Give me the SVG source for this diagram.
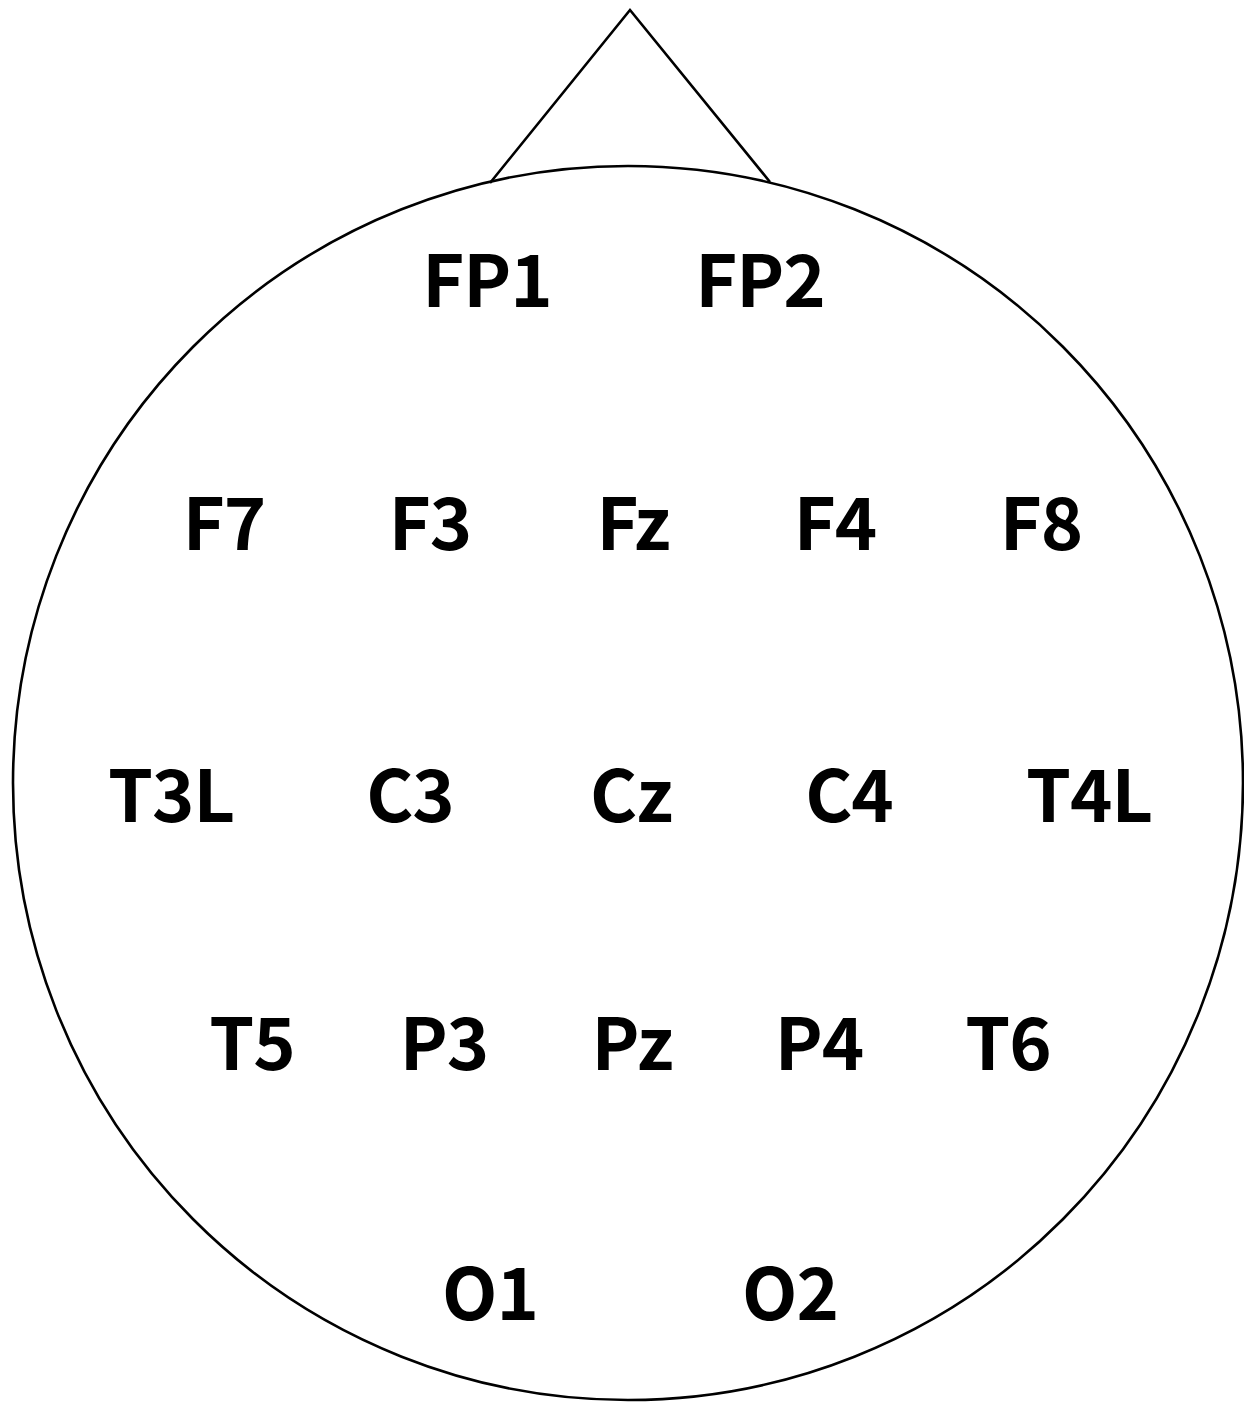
<svg xmlns="http://www.w3.org/2000/svg" width="1244" height="1402" viewBox="0 0 1244 1402">
<style>
.head{fill:none;stroke:#000;stroke-width:2.6}
.lbl{font-family:"Noto Sans CJK KR","Noto Sans",sans-serif;font-weight:bold;font-size:72px;letter-spacing:-1px;fill:#000;text-anchor:middle}
</style>
<rect width="1244" height="1402" fill="#fff"/>
<g id="head">
<polyline class="head" points="490,183 630,10 770,182"/>
<ellipse class="head" cx="628" cy="783" rx="615" ry="617"/>
</g>
<g id="connectors"></g>
<g id="FP1"><text class="lbl" x="487" y="307">FP1</text></g>
<g id="FP2"><text class="lbl" x="760" y="307">FP2</text></g>
<g id="F7"><text class="lbl" x="224" y="550">F7</text></g>
<g id="F3"><text class="lbl" x="430" y="550">F3</text></g>
<g id="Fz"><text class="lbl" x="633" y="550">Fz</text></g>
<g id="F4"><text class="lbl" x="835" y="550">F4</text></g>
<g id="F8"><text class="lbl" x="1041" y="550">F8</text></g>
<g id="T3L"><text class="lbl" x="171" y="822">T3L</text></g>
<g id="C3"><text class="lbl" x="410" y="822">C3</text></g>
<g id="Cz"><text class="lbl" x="631" y="822">Cz</text></g>
<g id="C4"><text class="lbl" x="849" y="822">C4</text></g>
<g id="T4L"><text class="lbl" x="1089" y="822">T4L</text></g>
<g id="T5"><text class="lbl" x="252" y="1070">T5</text></g>
<g id="P3"><text class="lbl" x="444" y="1070">P3</text></g>
<g id="Pz"><text class="lbl" x="632" y="1070">Pz</text></g>
<g id="P4"><text class="lbl" x="819" y="1070">P4</text></g>
<g id="T6"><text class="lbl" x="1008" y="1070">T6</text></g>
<g id="O1"><text class="lbl" x="490" y="1320">O1</text></g>
<g id="O2"><text class="lbl" x="790" y="1320">O2</text></g>
</svg>
